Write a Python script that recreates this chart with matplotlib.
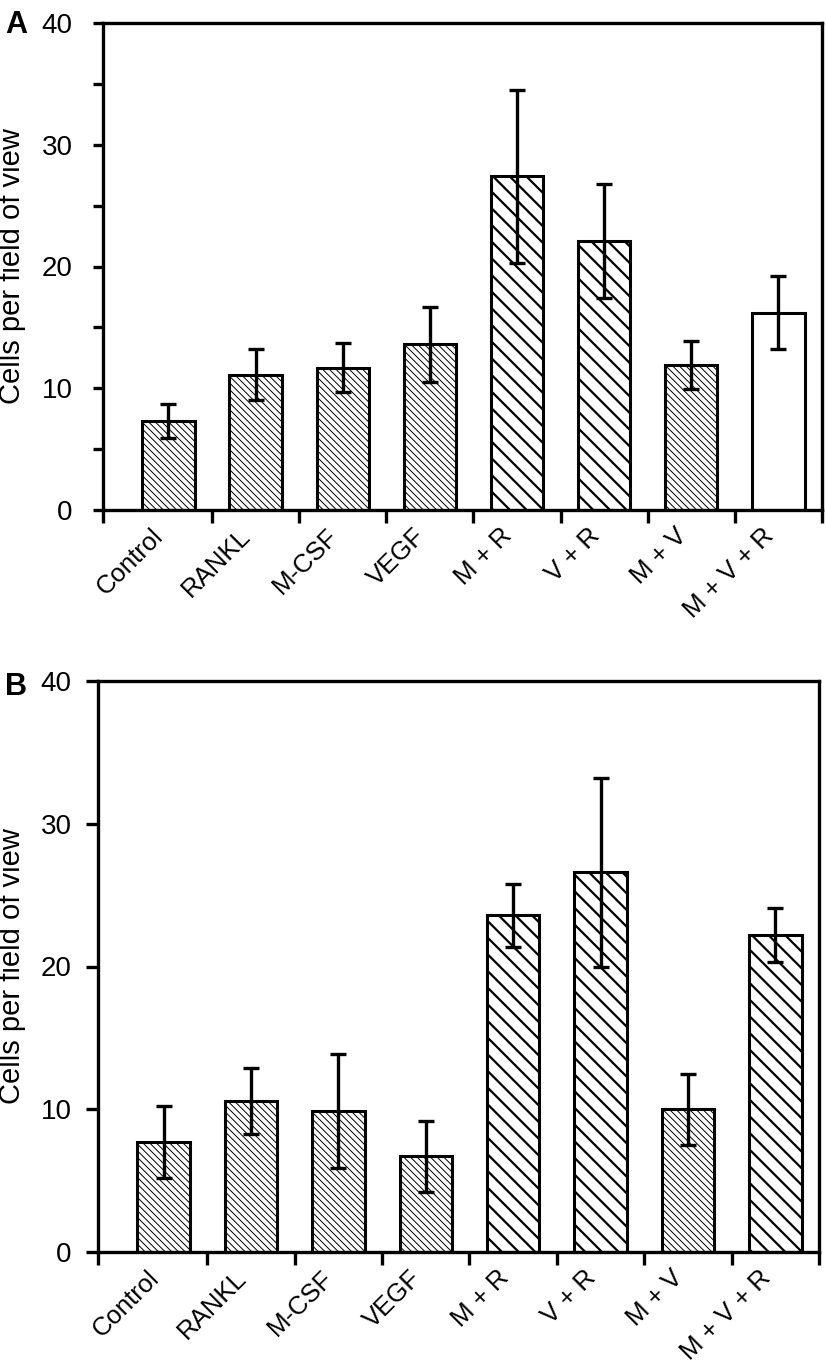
import matplotlib
matplotlib.use("Agg")
import matplotlib.pyplot as plt
import numpy as np

plt.rcParams['font.family'] = ['Liberation Sans', 'DejaVu Sans']

categories = ['Control', 'RANKL', 'M-CSF', 'VEGF', 'M + R', 'V + R', 'M + V', 'M + V + R']
a_means = [7.3, 11.1, 11.7, 13.6, 27.4, 22.1, 11.9, 16.2]
a_errs = [1.4, 2.1, 2.0, 3.1, 7.1, 4.7, 2.0, 3.0]
b_means = [7.7, 10.6, 9.9, 6.7, 23.6, 26.6, 10.0, 22.2]
b_errs = [2.5, 2.3, 4.0, 2.5, 2.2, 6.6, 2.5, 1.9]
a_styles = ['dense', 'dense', 'dense', 'dense', 'sparse', 'sparse', 'dense', 'none']
b_styles = ['dense', 'dense', 'dense', 'dense', 'sparse', 'sparse', 'dense', 'sparse']
y_ticks = [0, 10, 20, 30, 40]
ylabel = 'Cells per field of view'

HATCH = {'dense': ('\\\\\\\\\\', 0.7), 'sparse': ('\\\\', 1.6), 'none': ('', 1.0)}

W, H = 826, 1372
fig = plt.figure(figsize=(W / 100, H / 100), dpi=100)


def panel(rect, means, errs, styles, minor, letter, letter_xy, ytick_len, ypad, ylab_x):
    ax = fig.add_axes(rect)
    x = np.arange(len(categories))
    for i in x:
        hatch, hlw = HATCH[styles[i]]
        with plt.rc_context({'hatch.linewidth': hlw}):
            bars = ax.bar(x[i], means[i], width=0.6, color='white', edgecolor='black',
                          linewidth=2.2, hatch=hatch, zorder=2)
        for b in bars:
            if hasattr(b, 'set_hatch_linewidth'):
                b.set_hatch_linewidth(hlw)
    ax.errorbar(x, means, yerr=errs, fmt='none', ecolor='black', elinewidth=2.4,
                capsize=6, capthick=2.4, zorder=3)
    ax.set_xlim(-0.75, 7.5)
    ax.set_ylim(0, 40)
    for s in ax.spines.values():
        s.set_linewidth(2.4)
    ax.set_yticks(y_ticks)
    ax.set_yticklabels([str(t) for t in y_ticks], fontsize=20)
    if minor:
        ax.set_yticks([5, 15, 25, 35], minor=True)
    ax.tick_params(axis='y', which='both', direction='out', length=ytick_len, width=2.4,
                   pad=ypad, right=False)
    # x: labels at category centres, ticks at category boundaries
    ax.set_xticks(x)
    ax.set_xticklabels(categories, rotation=45, ha='right', va='top',
                       rotation_mode='default', fontsize=18.5)
    ax.tick_params(axis='x', which='major', length=0, pad=10)
    ax.set_xticks([-0.75] + list(np.arange(0.5, 8.0, 1.0)), minor=True)
    ax.tick_params(axis='x', which='minor', direction='out', length=9, width=2.4, top=False)
    ax.set_ylabel(ylabel, fontsize=21)
    ax.yaxis.set_label_coords(ylab_x, 0.5)
    fig.text(letter_xy[0] / W, 1 - letter_xy[1] / H, letter, fontsize=22,
             fontweight='bold', ha='left', va='baseline')
    return ax


axA = panel([103 / W, 1 - 510 / H, 719 / W, 487 / H], a_means, a_errs, a_styles,
            True, 'A', (5, 33), 7, 15, -0.107)
axB = panel([98 / W, 1 - 1252 / H, 721 / W, 571 / H], b_means, b_errs, b_styles,
            False, 'B', (5, 695), 9, 10, -0.10)

fig.savefig('out.png', dpi=100)
